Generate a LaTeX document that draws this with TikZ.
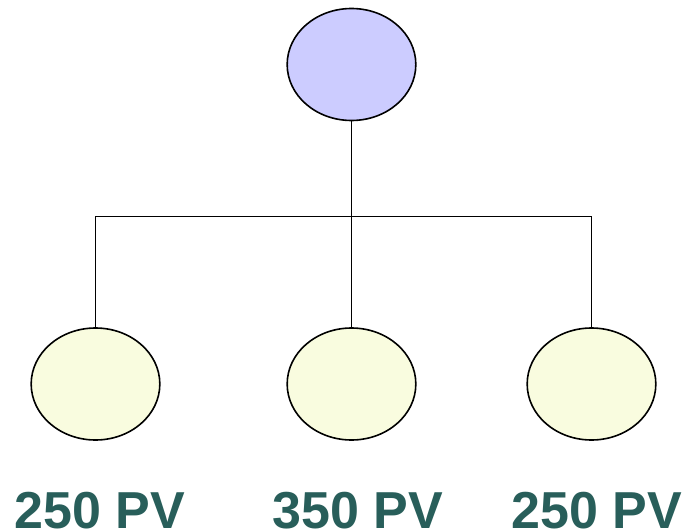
\documentclass[tikz,border=0pt]{standalone}
\usepackage{fontspec}
\setmainfont{Liberation Sans}
\usetikzlibrary{shapes.geometric,positioning}

\definecolor{topfill}{HTML}{CCCCFF}
\definecolor{leaffill}{HTML}{F9FCDF}
\definecolor{pvteal}{HTML}{285E5A}

\begin{document}
\begin{tikzpicture}[x=0.75pt,y=-0.75pt,
    bubble/.style={ellipse,draw,line width=1.2pt,inner sep=0pt,
                   minimum width=96.5pt,minimum height=84pt},
    pv/.style={anchor=base,inner sep=0pt,text depth=0pt,text=pvteal,
               font=\fontsize{39}{46}\selectfont\bfseries},
    link/.style={line width=1.1pt}]

            \useasboundingbox (0,0) rectangle (685,531);

            \node[bubble,fill=topfill] (root) at (351.5,64.5) {};

            \node[bubble,fill=leaffill] (left) at (95.5,384) {};

            \node[bubble,fill=leaffill] (mid) at (351.5,384) {};

            \node[bubble,fill=leaffill] (right) at (591.5,384) {};

            \coordinate (fork) at (351.5,216.5);

            

            \draw[link] (root) -- (fork) -- (mid);

            \draw[link] (left) |- (fork) -| (right);

            

            \node[pv] (pvleft) at (99.5,528) {250 PV};

            \node[pv] (pvmid) at (357.5,528) {350 PV};

            \node[pv] (pvright) at (597,528) {250 PV};

        \end{tikzpicture}
\end{document}
